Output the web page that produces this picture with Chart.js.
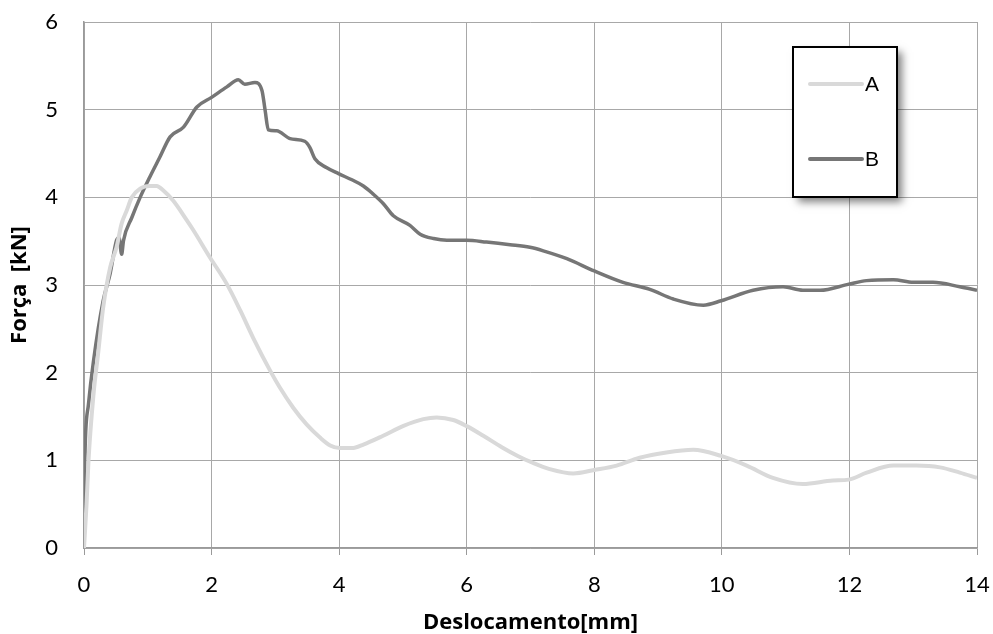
<!DOCTYPE html>
<html>
<head>
<meta charset="utf-8">
<script src="https://cdn.jsdelivr.net/npm/chart.js@4/dist/chart.umd.min.js"></script>
<style>
  html, body { margin: 0; padding: 0; background: #ffffff; }
  #wrap { width: 993px; height: 634px; position: relative; }
</style>
</head>
<body>
<div id="wrap"><canvas id="chart" width="993" height="634"></canvas></div>
<script>
// Force–displacement curves, two specimens
const seriesNames = ['A', 'B'];

const dispA = [0, 0.04, 0.07, 0.15, 0.22, 0.30, 0.41, 0.51, 0.59, 0.67, 0.75, 0.88, 1.03, 1.14, 1.24, 1.40, 1.61, 1.71, 1.97, 2.24, 2.45, 2.65, 2.92, 3.07, 3.28, 3.49, 3.70, 3.86, 4.01, 4.20, 4.38, 4.69, 5.00, 5.32, 5.53, 5.79, 6.00, 6.26, 6.55, 6.80, 7.04, 7.30, 7.67, 8.00, 8.35, 8.71, 9.13, 9.55, 9.99, 10.39, 10.80, 11.27, 11.74, 11.99, 12.27, 12.69, 13.05, 13.42, 13.73, 14.00];
const forceA = [0, 0.50, 0.99, 1.76, 2.21, 2.74, 3.20, 3.43, 3.70, 3.85, 4.00, 4.10, 4.13, 4.13, 4.08, 3.96, 3.74, 3.63, 3.32, 3.01, 2.71, 2.40, 2.02, 1.83, 1.60, 1.41, 1.26, 1.17, 1.14, 1.14, 1.18, 1.28, 1.39, 1.47, 1.49, 1.46, 1.39, 1.28, 1.15, 1.05, 0.97, 0.90, 0.85, 0.89, 0.94, 1.03, 1.09, 1.12, 1.05, 0.94, 0.80, 0.73, 0.77, 0.78, 0.86, 0.94, 0.94, 0.92, 0.86, 0.80];

const dispB = [0, 0.005, 0.02, 0.07, 0.15, 0.30, 0.41, 0.51, 0.55, 0.59, 0.62, 0.75, 0.88, 1.03, 1.19, 1.35, 1.56, 1.77, 2.00, 2.24, 2.42, 2.52, 2.68, 2.79, 2.84, 2.89, 3.02, 3.23, 3.46, 3.54, 3.62, 3.80, 3.99, 4.20, 4.38, 4.53, 4.69, 4.85, 5.11, 5.27, 5.48, 5.69, 6.00, 6.31, 6.68, 6.99, 7.20, 7.57, 8.00, 8.45, 8.87, 9.24, 9.71, 9.99, 10.49, 10.96, 11.27, 11.54, 11.99, 12.27, 12.69, 13.00, 13.31, 13.73, 14.00];
const forceB = [0, 0.60, 1.19, 1.64, 2.14, 2.82, 3.13, 3.51, 3.54, 3.35, 3.51, 3.77, 4.00, 4.23, 4.46, 4.69, 4.80, 5.03, 5.14, 5.26, 5.34, 5.29, 5.31, 5.22, 4.99, 4.77, 4.76, 4.67, 4.64, 4.57, 4.44, 4.34, 4.27, 4.20, 4.13, 4.04, 3.93, 3.79, 3.68, 3.58, 3.53, 3.51, 3.51, 3.49, 3.46, 3.43, 3.39, 3.30, 3.16, 3.03, 2.95, 2.84, 2.77, 2.82, 2.94, 2.98, 2.94, 2.94, 3.01, 3.05, 3.06, 3.03, 3.03, 2.98, 2.94];

const xTicks = [0, 2, 4, 6, 8, 10, 12, 14];
const yTicks = [0, 1, 2, 3, 4, 5, 6];
const xTitle = 'Deslocamento[mm]';
const yTitle = 'Força  [kN]';

const colorA = '#d9d9d9';
const colorB = '#767676';

function toPoints(xs, ys) {
  return xs.map((x, i) => ({ x: x, y: ys[i] }));
}

// Boxed legend with drop shadow, drawn inside the plot area
const boxLegend = {
  id: 'boxLegend',
  afterDatasetsDraw(chart) {
    const ctx = chart.ctx;
    const bx = 793, by = 47, bw = 104, bh = 150;
    ctx.save();
    ctx.shadowColor = 'rgba(0,0,0,0.5)';
    ctx.shadowBlur = 8;
    ctx.shadowOffsetX = 5;
    ctx.shadowOffsetY = 5;
    ctx.fillStyle = '#ffffff';
    ctx.fillRect(bx, by, bw, bh);
    ctx.restore();

    ctx.save();
    ctx.strokeStyle = '#000000';
    ctx.lineWidth = 2;
    ctx.strokeRect(bx, by, bw, bh);
    ctx.font = '21px "Liberation Sans", Arial, sans-serif';
    ctx.textBaseline = 'middle';
    ctx.textAlign = 'left';
    const rowsY = [84, 159];
    chart.data.datasets.forEach((ds, i) => {
      const y = rowsY[i];
      ctx.strokeStyle = ds.borderColor;
      ctx.lineWidth = 4;
      ctx.lineCap = 'round';
      ctx.beginPath();
      ctx.moveTo(810, y);
      ctx.lineTo(862, y);
      ctx.stroke();
      ctx.fillStyle = '#000000';
      ctx.fillText(ds.label, 865, y + 1);
    });
    ctx.restore();
  }
};

const tickFont = { family: 'Lato, "Open Sans", sans-serif', size: 22 };
const titleFont = { family: '"Open Sans", Lato, sans-serif', size: 22, weight: 'bold', lineHeight: 1.0 };
const gridColor = '#a8a8a8';
const axisColor = '#9a9a9a';

new Chart(document.getElementById('chart'), {
  type: 'line',
  data: {
    datasets: [
      { label: seriesNames[0], data: toPoints(dispA, forceA), borderColor: colorA, borderWidth: 4,
        pointRadius: 0, cubicInterpolationMode: 'monotone', fill: false },
      { label: seriesNames[1], data: toPoints(dispB, forceB), borderColor: colorB, borderWidth: 3.5,
        pointRadius: 0, cubicInterpolationMode: 'monotone', fill: false }
    ]
  },
  options: {
    responsive: false,
    animation: false,
    events: [],
    layout: { padding: { top: 22, right: 16, left: 0, bottom: 0 } },
    plugins: { legend: { display: false }, tooltip: { enabled: false } },
    scales: {
      x: {
        type: 'linear', min: 0, max: 14,
        afterBuildTicks: (s) => { s.ticks = xTicks.map(v => ({ value: v })); },
        afterFit: (s) => { s.height = 86; s.paddingLeft = 0; s.paddingRight = 0; },
        ticks: { font: tickFont, color: '#000000', padding: 17, maxRotation: 0 },
        grid: { color: gridColor, lineWidth: 1, borderDash: [1, 1], drawTicks: true, tickLength: 7,
                tickColor: axisColor, tickBorderDash: [] },
        border: { display: true, color: axisColor, width: 1.5 },
        title: { display: true, text: xTitle, font: titleFont, color: '#000000', padding: { top: 4, bottom: 0 } }
      },
      y: {
        type: 'linear', min: 0, max: 6,
        afterBuildTicks: (s) => { s.ticks = yTicks.map(v => ({ value: v })); },
        afterFit: (s) => { s.width = 84; s.paddingTop = 0; s.paddingBottom = 0; },
        ticks: { font: tickFont, color: '#000000', padding: 26 },
        grid: { color: gridColor, lineWidth: 1, borderDash: [1, 1], drawTicks: false },
        border: { display: true, color: axisColor, width: 1.5 },
        title: { display: true, text: yTitle, font: titleFont, color: '#000000', padding: { top: 9, bottom: 0 } }
      }
    }
  },
  plugins: [boxLegend]
});
</script>
</body>
</html>
